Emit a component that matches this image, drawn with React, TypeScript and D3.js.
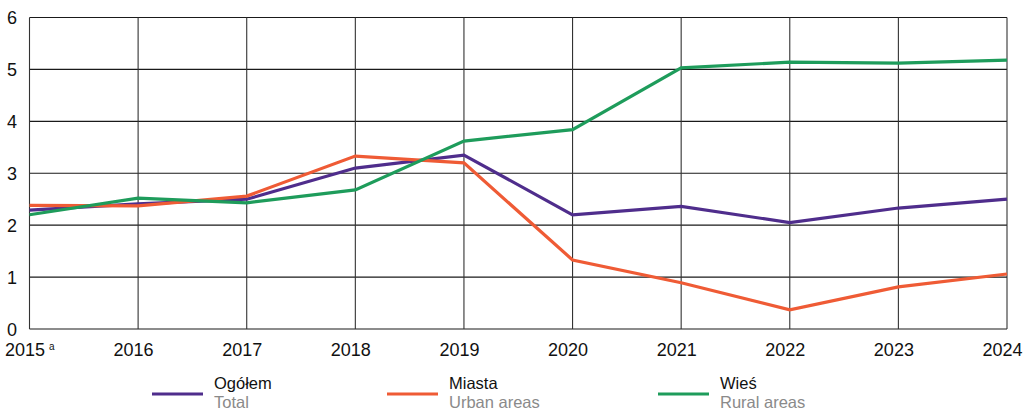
import React from "react";
import * as d3 from "d3";

const years = [2015, 2016, 2017, 2018, 2019, 2020, 2021, 2022, 2023, 2024];
const yTicks = [0, 1, 2, 3, 4, 5, 6];
const ogolem = [2.29, 2.41, 2.5, 3.1, 3.35, 2.2, 2.36, 2.05, 2.33, 2.5];
const miasta = [2.38, 2.37, 2.56, 3.33, 3.2, 1.33, 0.89, 0.37, 0.81, 1.06];
const wies = [2.2, 2.52, 2.43, 2.68, 3.62, 3.84, 5.03, 5.14, 5.12, 5.18];

const seriesNames = ["Ogółem", "Miasta", "Wieś"];
const seriesSub = ["Total", "Urban areas", "Rural areas"];
const seriesColors = ["#4f2d8c", "#ef5b35", "#1e9c5b"];
const seriesData = [ogolem, miasta, wies];

export default function App() {
  const W = 1031, H = 409;
  const left = 29.5, right = 1007, top = 17.5, bottom = 329;
  const x = d3.scaleLinear().domain([2015, 2024]).range([left, right]);
  const y = d3.scaleLinear().domain([0, 6]).range([bottom, top]);
  const line = d3.line<number>().x((_, i) => x(years[i])).y((d) => y(d));
  const font = "'Liberation Sans', Arial, sans-serif";
  const legendX = [152, 387, 658];

  return (
    <svg width={W} height={H} style={{ position: "absolute", left: 0, top: 0 }} fontFamily={font}>
      {yTicks.map((t) => (
        <line key={"h" + t} x1={left} x2={right} y1={y(t)} y2={y(t)} stroke="#1a1a1a" strokeWidth={1.1} />
      ))}
      {years.map((yr) => (
        <line key={"v" + yr} x1={x(yr)} x2={x(yr)} y1={top} y2={bottom} stroke="#333" strokeWidth={1.1} />
      ))}
      {yTicks.map((t) => (
        <text key={"yt" + t} x={12} y={y(t) + 6.5} textAnchor="middle" fontSize={18} fill="#111">
          {t}
        </text>
      ))}
      {years.map((yr, i) =>
        i === 0 ? (
          <text key={"xt" + yr} x={5} y={356} fontSize={18} fill="#111">
            2015
            <tspan fontSize={10} dy={-6} dx={4}>a</tspan>
          </text>
        ) : (
          <text key={"xt" + yr} x={x(yr) - 4.5} y={356} textAnchor="middle" fontSize={18} fill="#111">
            {yr}
          </text>
        )
      )}
      {seriesData.map((s, i) => (
        <path key={"s" + i} d={line(s) || ""} fill="none" stroke={seriesColors[i]} strokeWidth={3.2} strokeLinejoin="miter" />
      ))}
      {seriesNames.map((n, i) => (
        <g key={"lg" + i}>
          <line x1={legendX[i]} x2={legendX[i] + 51} y1={394} y2={394} stroke={seriesColors[i]} strokeWidth={3.2} />
          <text x={legendX[i] + 62} y={389} fontSize={16.5} fill="#111">{n}</text>
          <text x={legendX[i] + 62} y={407.5} fontSize={16.5} fill="#8a8a8a">{seriesSub[i]}</text>
        </g>
      ))}
    </svg>
  );
}
